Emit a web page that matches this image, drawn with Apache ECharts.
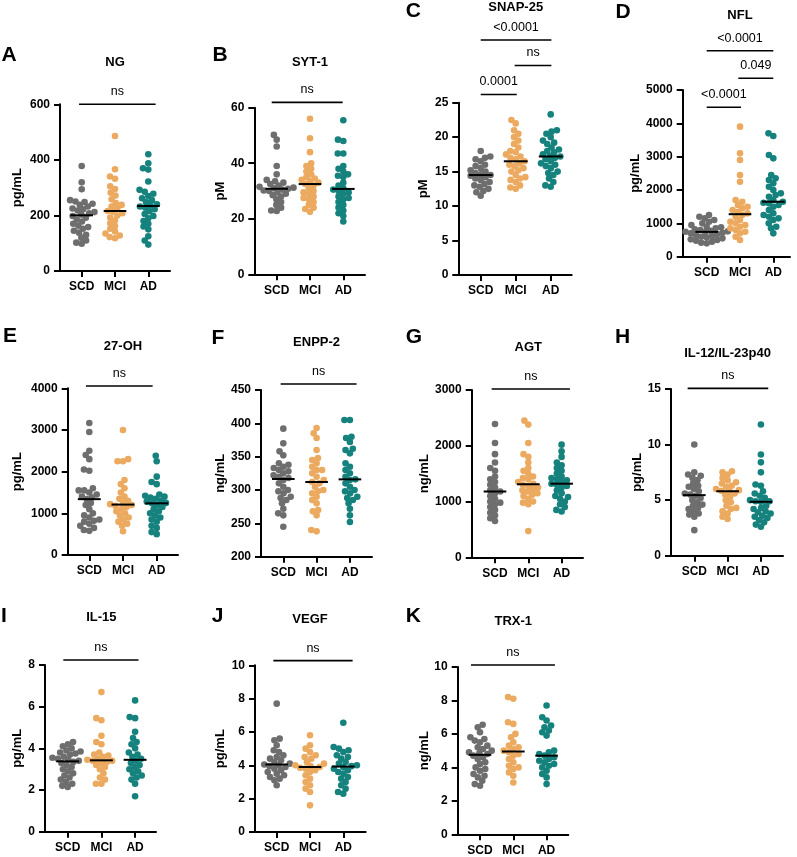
<!DOCTYPE html>
<html><head><meta charset="utf-8">
<script src="https://cdn.jsdelivr.net/npm/echarts@6/dist/echarts.min.js"></script>
<style>html,body{margin:0;padding:0;background:#fff}#c{width:797px;height:857px}</style>
</head><body><div id="c"></div>
<script>
const categories = ['SCD', 'MCI', 'AD'];
const groupColors = ['#6e6e6e', '#ebaa5f', '#15827d'];

// A: NG (pg/mL)
const ngSCD = [378, 319, 294, 255, 250, 248, 242, 238, 232, 225, 222, 218, 212, 208, 203, 198, 192, 185, 178, 170, 163, 158, 152, 145, 138, 130, 120, 110, 102, 98];
const ngMCI = [486, 366, 340, 332, 305, 295, 282, 272, 258, 245, 238, 232, 226, 216, 213, 208, 200, 192, 182, 172, 162, 152, 142, 135, 128, 122, 118];
const ngAD = [420, 388, 370, 365, 322, 292, 285, 278, 270, 262, 255, 248, 240, 236, 232, 228, 222, 215, 205, 198, 190, 180, 170, 160, 150, 125, 110, 95];
// B: SYT-1 (pM)
const sytSCD = [50.2, 48.5, 46, 39, 36, 34, 33.5, 33, 32.5, 32, 31.5, 31.2, 31, 30.8, 30.5, 30.2, 30, 29.5, 29, 28.5, 28, 27, 26, 25, 24, 23, 22.8];
const sytMCI = [56, 49, 44, 40, 39, 38, 37, 36, 35, 34.5, 34, 33.5, 33, 32.5, 32, 31, 30, 29.5, 29, 28, 27.5, 27, 26, 25, 24, 23.5, 22.5];
const sytAD = [55.5, 48.5, 48, 43.5, 43.5, 39, 38, 37, 36, 35.5, 35, 33, 32, 31, 30.5, 30, 29.5, 29, 28, 27.5, 27, 26, 25, 24, 23, 22, 21, 19];
// C: SNAP-25 (pM)
const snapSCD = [18, 17.2, 17, 16.8, 16.5, 16, 15.8, 15.5, 15.2, 15, 14.8, 14.6, 14.5, 14.4, 14.2, 14, 13.8, 13.5, 13.2, 13, 12.8, 12.5, 12.2, 12, 11.5];
const snapMCI = [22.5, 22, 21, 20.5, 20, 19.5, 19, 18.5, 18, 17.8, 17.5, 17.2, 17, 16.8, 16.5, 16.2, 16, 15.8, 15.5, 15.2, 15, 14.5, 14.2, 14, 13.8, 13.5, 13, 12.7, 12.5];
const snapAD = [23.3, 21, 20.8, 20.5, 20, 19.5, 19.2, 19, 18.5, 18.2, 18, 17.8, 17.5, 17.3, 17.2, 17, 16.8, 16.5, 16.2, 16, 15.8, 15.5, 15, 14.8, 14.5, 14, 13.5, 13, 12.8];
// D: NFL (pg/mL)
const nflSCD = [1250, 1200, 1150, 1100, 1050, 1000, 950, 900, 880, 850, 820, 800, 780, 760, 750, 740, 720, 700, 680, 650, 620, 600, 580, 550, 520, 500, 480, 450, 420, 400];
const nflMCI = [3900, 3100, 2900, 2450, 2250, 1700, 1650, 1550, 1500, 1450, 1400, 1350, 1300, 1250, 1200, 1100, 1050, 1000, 950, 900, 850, 800, 750, 700, 600, 500];
const nflAD = [3700, 3620, 3050, 2950, 2450, 2350, 2300, 2200, 2100, 2000, 1900, 1850, 1800, 1700, 1650, 1620, 1600, 1550, 1500, 1400, 1300, 1250, 1200, 1150, 1100, 1000, 900, 850, 700];
// E: 27-OH (pg/mL)
const ohSCD = [3168, 2950, 2500, 2400, 2300, 2050, 2020, 1600, 1550, 1550, 1500, 1450, 1400, 1380, 1340, 1250, 1200, 1100, 1000, 950, 900, 850, 820, 800, 750, 700, 650, 600, 580];
const ohMCI = [3000, 2300, 2250, 2250, 1800, 1700, 1600, 1500, 1400, 1350, 1300, 1250, 1220, 1200, 1180, 1150, 1100, 1050, 1000, 950, 900, 850, 800, 750, 700, 570];
const ohAD = [2380, 2250, 1880, 1750, 1700, 1450, 1420, 1400, 1380, 1350, 1300, 1280, 1250, 1240, 1200, 1150, 1100, 1050, 1000, 950, 900, 850, 800, 700, 650, 550, 500];
// F: ENPP-2 (ng/mL)
const enppSCD = [392, 370, 358, 352, 340, 338, 335, 333, 330, 328, 325, 322, 320, 318, 315, 310, 305, 300, 298, 295, 290, 288, 285, 280, 272, 265, 262, 245];
const enppMCI = [393, 385, 378, 360, 348, 345, 340, 335, 330, 330, 325, 320, 315, 312, 310, 305, 300, 298, 295, 290, 285, 280, 270, 268, 262, 240, 238];
const enppAD = [405, 405, 380, 378, 372, 362, 360, 355, 340, 335, 330, 325, 320, 316, 315, 310, 305, 300, 298, 295, 290, 288, 285, 280, 272, 262, 252];
// G: AGT (ng/mL)
const agtSCD = [2390, 2050, 1850, 1700, 1600, 1550, 1450, 1400, 1350, 1300, 1250, 1200, 1180, 1150, 1100, 1050, 1000, 980, 950, 900, 850, 800, 750, 700, 650];
const agtMCI = [2450, 2380, 2050, 1850, 1800, 1700, 1600, 1550, 1500, 1450, 1420, 1400, 1350, 1320, 1300, 1280, 1250, 1220, 1200, 1180, 1150, 1120, 1100, 1050, 1000, 980, 950, 470];
const agtAD = [2020, 1900, 1800, 1700, 1650, 1600, 1550, 1500, 1450, 1420, 1400, 1380, 1350, 1320, 1300, 1280, 1250, 1200, 1150, 1100, 1080, 1050, 1000, 950, 900, 850, 820];
// H: IL-12/IL-23p40 (pg/mL)
const ilpSCD = [10, 7.5, 7.3, 7.2, 7, 6.8, 6.5, 6.3, 6.2, 6, 5.8, 5.6, 5.5, 5.4, 5.2, 5, 4.8, 4.6, 4.5, 4.3, 4.2, 4, 3.8, 3.7, 3.5, 2.3];
const ilpMCI = [7.6, 7.5, 7.3, 7, 6.8, 6.6, 6.5, 6.3, 6.2, 6, 5.9, 5.85, 5.8, 5.6, 5.5, 5.3, 5, 4.8, 4.5, 4.3, 4.2, 4, 3.8, 3.5, 3.3];
const ilpAD = [11.8, 9.1, 8.4, 7.5, 6.4, 6.3, 5.8, 5.6, 5.4, 5.2, 5, 4.9, 4.9, 4.85, 4.5, 4.3, 4.2, 4, 3.9, 3.8, 3.6, 3.5, 3.4, 3.2, 3, 2.8, 2.6];
// I: IL-15 (pg/mL)
const il15SCD = [4.3, 4.2, 4.1, 4.0, 3.9, 3.85, 3.8, 3.75, 3.7, 3.6, 3.55, 3.5, 3.45, 3.4, 3.35, 3.3, 3.2, 3.1, 3, 2.9, 2.8, 2.7, 2.6, 2.5, 2.4, 2.3, 2.2, 2.15];
const il15MCI = [6.7, 5.45, 5.35, 4.6, 4.3, 4.2, 3.8, 3.7, 3.65, 3.6, 3.5, 3.45, 3.4, 3.4, 3.35, 3.3, 3.2, 3.1, 3, 2.8, 2.6, 2.5, 2.3, 2.3];
const il15AD = [6.3, 5.5, 5.45, 4.8, 4.5, 4.3, 4.2, 4.0, 3.8, 3.7, 3.6, 3.5, 3.4, 3.3, 3.2, 3.1, 3.0, 2.9, 2.8, 2.7, 2.6, 2.5, 2.3, 1.7];
// J: VEGF (pg/mL)
const vegfSCD = [7.7, 5.6, 5.5, 5.2, 4.9, 4.8, 4.6, 4.5, 4.4, 4.3, 4.2, 4.1, 4.05, 4.0, 3.95, 3.9, 3.8, 3.7, 3.6, 3.5, 3.4, 3.3, 3.2, 3.1, 2.8];
const vegfMCI = [5.8, 5.2, 5.0, 4.8, 4.6, 4.5, 4.4, 4.2, 4.1, 4.0, 3.95, 3.9, 3.85, 3.8, 3.7, 3.6, 3.4, 3.2, 3.0, 2.8, 2.6, 2.4, 1.6];
const vegfAD = [6.55, 5.1, 5.0, 4.9, 4.8, 4.6, 4.5, 4.4, 4.2, 4.1, 4.0, 3.95, 3.9, 3.8, 3.7, 3.6, 3.5, 3.3, 3.2, 3.0, 2.8, 2.6, 2.4, 2.3];
// K: TRX-1 (ng/mL)
const trxSCD = [6.55, 6.4, 6.1, 5.8, 5.7, 5.6, 5.5, 5.3, 5.2, 5.1, 5.0, 4.9, 4.85, 4.8, 4.7, 4.6, 4.5, 4.3, 4.2, 4.0, 3.9, 3.8, 3.6, 3.5, 3.4, 3.2, 3.0, 2.9];
const trxMCI = [8.2, 8.1, 6.7, 6.6, 6.0, 5.8, 5.5, 5.3, 5.2, 5.1, 5.0, 4.9, 4.8, 4.7, 4.5, 4.3, 4.1, 4.0, 3.9, 3.7, 3.5, 3.1];
const trxAD = [7.7, 7.0, 6.8, 6.5, 6.4, 6.2, 6.1, 5.9, 5.0, 4.9, 4.8, 4.7, 4.6, 4.5, 4.4, 4.3, 4.2, 4.1, 4.0, 3.8, 3.6, 3.4, 3.0];

const panelLetters = ['A','B','C','D','E','F','G','H','I','J','K'];
const panelTitles = ['NG','SYT-1','SNAP-25','NFL','27-OH','ENPP-2','AGT','IL-12/IL-23p40','IL-15','VEGF','TRX-1'];
const panelUnits = ['pg/mL','pM','pM','pg/mL','pg/mL','ng/mL','ng/mL','pg/mL','pg/mL','pg/mL','ng/mL'];
const panelGroups = [
  [ngSCD, ngMCI, ngAD], [sytSCD, sytMCI, sytAD], [snapSCD, snapMCI, snapAD], [nflSCD, nflMCI, nflAD],
  [ohSCD, ohMCI, ohAD], [enppSCD, enppMCI, enppAD], [agtSCD, agtMCI, agtAD], [ilpSCD, ilpMCI, ilpAD],
  [il15SCD, il15MCI, il15AD], [vegfSCD, vegfMCI, vegfAD], [trxSCD, trxMCI, trxAD]
];
const yMins = [0, 0, 0, 0, 0, 200, 0, 0, 0, 0, 0];
const yMaxs = [600, 60, 25, 5000, 4000, 450, 3000, 15, 8, 10, 10];
const yIntervals = [200, 20, 5, 1000, 1000, 50, 1000, 5, 2, 2, 2];
const sigLabels = [['ns'], ['ns'], ['<0.0001', 'ns', '0.0001'], ['<0.0001', '0.049', '<0.0001'], ['ns'], ['ns'], ['ns'], ['ns'], ['ns'], ['ns'], ['ns']];

// layout (pixels) and bracket geometry
const layouts = [
  {L:60, T:104.3, B:271, R:170, t0:81.7, sp:33.3, gap:36, lx:9, ly:55.5, ty:62, br:[[-0.08,2.22,600]]},
  {L:254.3, T:107.7, B:274.3, R:365, t0:276.7, sp:33.3, gap:27, lx:220, ly:55.5, ty:62, br:[[-0.15,1.98,61.9]]},
  {L:458.3, T:102.7, B:275, R:571.7, t0:480.7, sp:35, gap:28, lx:413.3, ly:11.7, ty:7.5, br:[[0,2.02,34.1],[0.97,2.02,30.4],[0,1.03,26.2]]},
  {L:682.7, T:90, B:256.7, R:790, t0:706.7, sp:33.3, gap:39, lx:623, ly:12.5, ty:15, br:[[0,2.0,6179],[0.95,2.0,5351],[0,1.03,4481]]},
  {L:67.7, T:388.3, B:555, R:178, t0:89.3, sp:33.7, gap:44, lx:10, ly:336.7, ty:346.7, br:[[-0.1,1.88,4055]]},
  {L:261, T:390, B:556.7, R:372, t0:283.3, sp:33.3, gap:34, lx:218, ly:338, ty:342.7, br:[[-0.08,2.2,459]]},
  {L:471.7, T:390, B:557.3, R:583, t0:495, sp:33.3, gap:41, lx:414, ly:337, ty:347, br:[[-0.1,2.25,3018]]},
  {L:671, T:389, B:555.7, R:783, t0:694.3, sp:33.3, gap:27, lx:622.5, ly:337.5, ty:353.5, br:[[-0.2,2.22,15.06]]},
  {L:45, T:665, B:831.7, R:156, t0:67.7, sp:33.7, gap:21, lx:4, ly:616.7, ty:617.5, br:[[-0.13,2.1,8.24]]},
  {L:255, T:665.3, B:832, R:365.7, t0:276.7, sp:33.3, gap:28, lx:217.5, ly:616.7, ty:619.5, br:[[-0.1,2.28,10.28]]},
  {L:457.7, T:667, B:834.3, R:568.3, t0:480, sp:33.3, gap:27, lx:413.3, ly:616.7, ty:621, br:[[-0.27,2.25,10.12]]}
];

const FONT = '"Liberation Sans", Arial, Helvetica, sans-serif';
const DOT = 6.6;
const SWARM_DIST = 5.5;

function median(arr) {
  const s = arr.slice().sort((a, b) => a - b);
  const n = s.length;
  return n % 2 ? s[(n - 1) / 2] : (s[n / 2 - 1] + s[n / 2]) / 2;
}
// beeswarm offsets (pixels) computed from values and pixel scale
function swarm(values, pxPerY, d) {
  const order = values.map((v, i) => i).sort((a, b) => values[a] - values[b]);
  const placed = [];
  const offs = new Array(values.length);
  for (const i of order) {
    const y = values[i] * pxPerY;
    const cands = [0];
    for (const p of placed) {
      const dy = Math.abs(p.y - y);
      if (dy < d) { const dx = Math.sqrt(d * d - dy * dy); cands.push(p.x + dx, p.x - dx); }
    }
    cands.sort((a, b) => Math.abs(a) - Math.abs(b) || a - b);
    let best = 0;
    for (const c of cands) {
      if (placed.every(p => (p.x - c) * (p.x - c) + (p.y - y) * (p.y - y) >= d * d - 1e-6)) { best = c; break; }
    }
    placed.push({x: best, y});
    offs[i] = best;
  }
  return offs;
}

const grids = [], xAxes = [], yAxes = [], series = [], graphics = [];
layouts.forEach((lay, i) => {
  const xmin = -(lay.t0 - lay.L) / lay.sp;
  const xmax = 2 + (lay.R - (lay.t0 + 2 * lay.sp)) / lay.sp;
  grids.push({left: lay.L, top: lay.T, width: lay.R - lay.L, height: lay.B - lay.T});
  const axisFont = {color: '#000', fontFamily: FONT, fontWeight: 'bold', fontSize: 12};
  xAxes.push({
    gridIndex: i, type: 'value', min: xmin, max: xmax,
    axisLine: {onZero: false, lineStyle: {color: '#000', width: 2}},
    axisTick: {show: true, customValues: [0, 1, 2], length: 6, lineStyle: {color: '#000', width: 2}},
    axisLabel: Object.assign({customValues: [0, 1, 2], margin: 10, formatter: v => categories[Math.round(v)]}, axisFont),
    splitLine: {show: false}
  });
  yAxes.push({
    gridIndex: i, type: 'value', min: yMins[i], max: yMaxs[i], interval: yIntervals[i],
    name: panelUnits[i], nameLocation: 'middle', nameGap: lay.gap,
    nameTextStyle: {color: '#000', fontFamily: FONT, fontWeight: 'bold', fontSize: 13},
    axisLine: {show: true, onZero: false, lineStyle: {color: '#000', width: 2}},
    axisTick: {show: true, length: 6, lineStyle: {color: '#000', width: 2}},
    axisLabel: Object.assign({margin: 10, formatter: v => String(v)}, axisFont),
    splitLine: {show: false}
  });
  const pxPerY = (lay.B - lay.T) / (yMaxs[i] - yMins[i]);
  const meds = [];
  panelGroups[i].forEach((vals, g) => {
    const offs = swarm(vals, pxPerY, SWARM_DIST);
    series.push({
      type: 'scatter', xAxisIndex: i, yAxisIndex: i, symbolSize: DOT,
      itemStyle: {color: groupColors[g], opacity: 1},
      silent: true, animation: false,
      data: vals.map((v, k) => [g + offs[k] / lay.sp, v])
    });
    meds.push([g, median(vals)]);
  });
  series.push({
    type: 'custom', xAxisIndex: i, yAxisIndex: i, silent: true, animation: false, z: 5,
    encode: {x: 0, y: 1},
    data: meds,
    renderItem: (params, api) => {
      const p1 = api.coord([api.value(0) - 0.34, api.value(1)]);
      const p2 = api.coord([api.value(0) + 0.34, api.value(1)]);
      return {type: 'line', shape: {x1: p1[0], y1: p1[1], x2: p2[0], y2: p2[1]}, style: {stroke: '#000', lineWidth: 2}};
    }
  });
  const labels = sigLabels[i];
  series.push({
    type: 'custom', xAxisIndex: i, yAxisIndex: i, silent: true, animation: false, clip: false, z: 5,
    encode: {x: [0, 1], y: 2},
    data: lay.br,
    renderItem: (params, api) => {
      const p1 = api.coord([api.value(0), api.value(2)]);
      const p2 = api.coord([api.value(1), api.value(2)]);
      return {type: 'group', children: [
        {type: 'line', shape: {x1: p1[0], y1: p1[1], x2: p2[0], y2: p2[1]}, style: {stroke: '#000', lineWidth: 1.6}},
        {type: 'text', x: (p1[0] + p2[0]) / 2, y: p1[1] - 12.5,
         style: {text: labels[params.dataIndex], fill: '#000', font: '12.5px ' + FONT, align: 'center', verticalAlign: 'middle', textAlign: 'center', textVerticalAlign: 'middle'}}
      ]};
    }
  });
  graphics.push({type: 'text', x: lay.lx, y: lay.ly, silent: true,
    style: {text: panelLetters[i], fill: '#000', font: 'bold 21px ' + FONT, align: 'center', verticalAlign: 'middle', textAlign: 'center', textVerticalAlign: 'middle'}});
  graphics.push({type: 'text', x: lay.t0 + lay.sp, y: lay.ty, silent: true,
    style: {text: panelTitles[i], fill: '#000', font: 'bold 13px ' + FONT, align: 'center', verticalAlign: 'middle', textAlign: 'center', textVerticalAlign: 'middle'}});
});

const chart = echarts.init(document.getElementById('c'), null, {renderer: 'canvas'});
chart.setOption({
  backgroundColor: '#fff',
  animation: false,
  grid: grids, xAxis: xAxes, yAxis: yAxes, series: series, graphic: graphics
});
</script>
</body></html>
